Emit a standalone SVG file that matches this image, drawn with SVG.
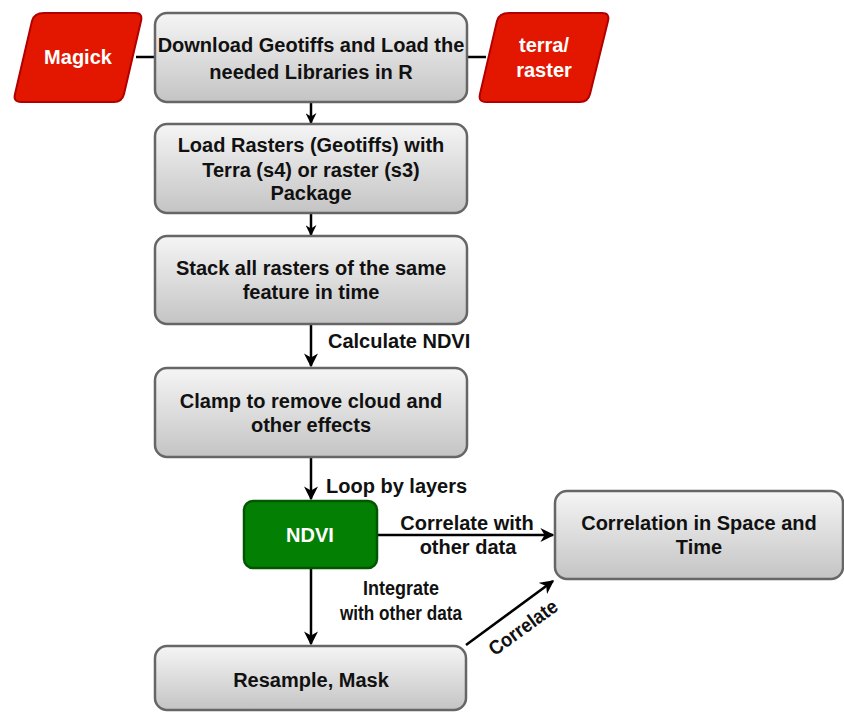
<svg xmlns="http://www.w3.org/2000/svg" width="844" height="712" viewBox="0 0 844 712">
<defs>
<linearGradient id="gray" x1="0" y1="0" x2="0" y2="1">
<stop offset="0" stop-color="#f5f5f5"/>
<stop offset="1" stop-color="#c4c4c4"/>
</linearGradient>
<marker id="arr" viewBox="0 0 10 10" refX="9" refY="5" markerWidth="11" markerHeight="11" markerUnits="userSpaceOnUse" orient="auto">
<path d="M0,0 L10,5 L0,10 L3,5 Z" fill="#000"/>
</marker>
<marker id="arrL" viewBox="0 0 10 10" refX="9" refY="5" markerWidth="14" markerHeight="14" markerUnits="userSpaceOnUse" orient="auto">
<path d="M0,0 L10,5 L0,10 L3,5 Z" fill="#000"/>
</marker>
</defs>
<style>
.box{fill:url(#gray);stroke:#666;stroke-width:2.5}
.red{fill:#e31700;stroke:#b20000;stroke-width:2;stroke-linejoin:round}
.green{fill:#038003;stroke:#005700;stroke-width:2.5}
text{font-family:"Liberation Sans",Arial,sans-serif;font-weight:bold;font-size:20px;text-anchor:middle;fill:#111}
.w{fill:#fff}
.lbl{text-anchor:start}
.ln{stroke:#000;stroke-width:2.5;fill:none}
</style>
<rect width="844" height="712" fill="#fff"/>
<g id="connectors">
<line class="ln" x1="136" y1="57" x2="155" y2="57"/>
<line class="ln" x1="467" y1="57" x2="486" y2="57"/>
<line class="ln" x1="311" y1="102" x2="311" y2="123" marker-end="url(#arr)"/>
<line class="ln" x1="311" y1="213" x2="311" y2="235" marker-end="url(#arr)"/>
<line class="ln" x1="311" y1="324" x2="311" y2="366" marker-end="url(#arrL)"/>
<text class="lbl" x="328" y="348">Calculate NDVI</text>
<line class="ln" x1="311" y1="457" x2="311" y2="499" marker-end="url(#arrL)"/>
<text class="lbl" x="326" y="493">Loop by layers</text>
<line class="ln" x1="377" y1="535" x2="553" y2="535" marker-end="url(#arrL)"/>
<text x="467" y="530">Correlate with</text>
<text x="468" y="554">other data</text>
<line class="ln" x1="311" y1="568" x2="311" y2="644" marker-end="url(#arrL)"/>
<text x="401" y="595" textLength="76" lengthAdjust="spacingAndGlyphs">Integrate</text>
<text x="401" y="620" textLength="122" lengthAdjust="spacingAndGlyphs">with other data</text>
<line class="ln" x1="466" y1="645" x2="553" y2="581" marker-end="url(#arrL)"/>
<text x="0" y="0" transform="translate(527,633) rotate(-36)" textLength="80" lengthAdjust="spacingAndGlyphs">Correlate</text>
</g>
<g id="magick">
<path class="red" d="M44,13 L135,13 Q143,13 141,21 L124,94 Q122,102 114,102 L21,102 Q13,102 15,94 L32,21 Q34,13 44,13 Z"/>
<text class="w" x="78" y="64">Magick</text>
</g>
<g id="terra">
<path class="red" d="M509,13 L602,13 Q610,13 608,21 L590,94 Q588,102 580,102 L486,102 Q478,102 480,94 L497,21 Q499,13 509,13 Z"/>
<text class="w" x="544" y="52">terra/</text>
<text class="w" x="544" y="77">raster</text>
</g>
<g id="download">
<rect class="box" x="155" y="13" width="312" height="89" rx="12"/>
<text x="311" y="52">Download Geotiffs and Load the</text>
<text x="311" y="79">needed Libraries in R</text>
</g>
<g id="load">
<rect class="box" x="155" y="124" width="312" height="89" rx="12"/>
<text x="311" y="152">Load Rasters (Geotiffs) with</text>
<text x="311" y="177">Terra (s4) or raster (s3)</text>
<text x="311" y="200">Package</text>
</g>
<g id="stack">
<rect class="box" x="155" y="236" width="312" height="88" rx="12"/>
<text x="311" y="275">Stack all rasters of the same</text>
<text x="311" y="299">feature in time</text>
</g>
<g id="clamp">
<rect class="box" x="155" y="368" width="312" height="89" rx="12"/>
<text x="311" y="408">Clamp to remove cloud and</text>
<text x="311" y="432">other effects</text>
</g>
<g id="ndvi">
<rect class="green" x="244" y="501" width="133" height="67" rx="9"/>
<text class="w" x="310" y="542">NDVI</text>
</g>
<g id="correlation">
<rect class="box" x="555" y="491" width="288" height="88" rx="12"/>
<text x="699" y="530">Correlation in Space and</text>
<text x="699" y="554">Time</text>
</g>
<g id="resample">
<rect class="box" x="155" y="646" width="311" height="64" rx="12"/>
<text x="311" y="687">Resample, Mask</text>
</g>
</svg>
